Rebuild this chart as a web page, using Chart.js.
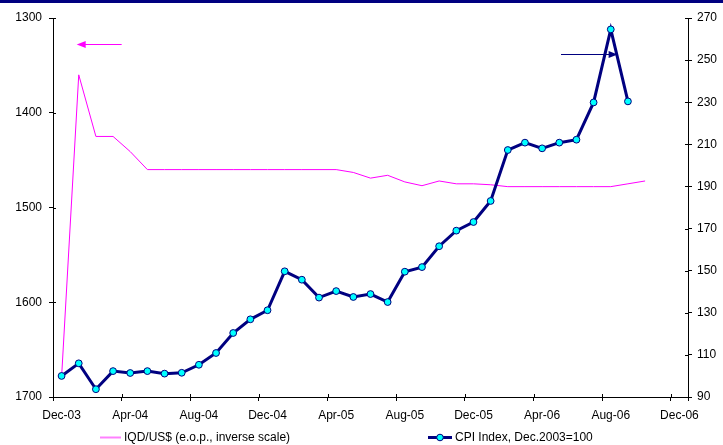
<!DOCTYPE html>
<html><head><meta charset="utf-8">
<script src="https://cdn.jsdelivr.net/npm/chart.js@4"></script>
<style>html,body{margin:0;padding:0;background:#fff;}canvas{display:block;}</style>
</head><body>
<canvas id="c" width="723" height="445"></canvas>
<script>
// ---- data ----
const months = ['Dec-03','Jan-04','Feb-04','Mar-04','Apr-04','May-04','Jun-04','Jul-04','Aug-04','Sep-04','Oct-04','Nov-04',
  'Dec-04','Jan-05','Feb-05','Mar-05','Apr-05','May-05','Jun-05','Jul-05','Aug-05','Sep-05','Oct-05','Nov-05',
  'Dec-05','Jan-06','Feb-06','Mar-06','Apr-06','May-06','Jun-06','Jul-06','Aug-06','Sep-06','Oct-06','Nov-06','Dec-06'];
const iqdLabel = 'IQD/US$ (e.o.p., inverse scale)';
const cpiLabel = 'CPI Index, Dec.2003=100';
const iqdValues = [1679,1360,1425,1425,1441,1460,1460,1460,1460,1460,1460,1460,1460,1460,1460,1460,1460,
  1463,1469,1466,1473,1477,1472,1475,1475,1476,1478,1478,1478,1478,1478,1478,1478,1475,1472];
const cpiValues = [100,106.0,93.7,102.3,101.4,102.3,101.1,101.5,105.3,110.9,120.4,126.9,131.2,149.7,145.7,137.2,
  140.3,137.5,138.9,135.1,149.5,151.7,161.6,169.0,173.1,183.1,207.3,210.8,208.1,210.8,212.2,229.9,264.6,230.4];
const leftTicks = {min:1300, max:1700, step:100};
const rightTicks = {min:90, max:270, step:20};

// ---- styles ----
const PINK = '#FF00FF', NAVY = '#000080', CYAN = '#00FFFF';
Chart.defaults.font.family = 'Arial, "Liberation Sans", sans-serif';
Chart.defaults.font.size = 12;
Chart.defaults.color = '#000';

const decorPlugin = {
  id: 'decor',
  beforeDraw(chart) {
    const ctx = chart.ctx;
    ctx.save();
    ctx.fillStyle = '#fff';
    ctx.fillRect(0, 0, chart.width, chart.height);
    ctx.fillStyle = NAVY;
    ctx.fillRect(0, 0, chart.width, 3);
    ctx.restore();
  },
  afterDraw(chart) {
    const ctx = chart.ctx, a = chart.chartArea;
    const x = chart.scales.x, yL = chart.scales.yL, yR = chart.scales.yR;
    ctx.save();
    ctx.strokeStyle = '#000'; ctx.lineWidth = 1;
    // inner halves of tick marks
    const half = (x.getPixelForValue(1) - x.getPixelForValue(0)) / 2;
    ctx.beginPath();
    for (let i = 0; i < months.length; i += 4) {
      const px = Math.round(x.getPixelForValue(i) - half) + 0.5;
      ctx.moveTo(px, a.bottom); ctx.lineTo(px, a.bottom - 3);
    }
    yL.ticks.forEach(t => { const py = Math.round(yL.getPixelForValue(t.value)) + 0.5; ctx.moveTo(a.left, py); ctx.lineTo(a.left + 3, py); });
    yR.ticks.forEach(t => { const py = Math.round(yR.getPixelForValue(t.value)) + 0.5; ctx.moveTo(a.right, py); ctx.lineTo(a.right - 3, py); });
    ctx.stroke();

    // arrows
    function arrow(x1, x2, y, color) {
      ctx.strokeStyle = color; ctx.fillStyle = color; ctx.lineWidth = 1.2;
      const dir = Math.sign(x2 - x1);
      ctx.beginPath(); ctx.moveTo(x1, y); ctx.lineTo(x2 - dir * 6, y); ctx.stroke();
      ctx.beginPath(); ctx.moveTo(x2, y); ctx.lineTo(x2 - dir * 9, y - 3.5); ctx.lineTo(x2 - dir * 9, y + 3.5); ctx.closePath(); ctx.fill();
    }
    arrow(x.getPixelForValue(3.5), x.getPixelForValue(0.88), Math.round(yL.getPixelForValue(1327.5)) + 0.5, PINK);
    arrow(x.getPixelForValue(29.1), x.getPixelForValue(32.4), Math.round(yR.getPixelForValue(253)) + 0.5, NAVY);

    // legend
    const ly = 437.5;
    ctx.lineWidth = 2; ctx.strokeStyle = '#FF80FF';
    ctx.beginPath(); ctx.moveTo(100, ly); ctx.lineTo(121, ly); ctx.stroke();
    ctx.lineWidth = 3; ctx.strokeStyle = NAVY;
    ctx.beginPath(); ctx.moveTo(428, ly); ctx.lineTo(452, ly); ctx.stroke();
    ctx.beginPath(); ctx.arc(440, ly, 3.3, 0, Math.PI * 2); ctx.fillStyle = CYAN; ctx.fill();
    ctx.lineWidth = 1; ctx.strokeStyle = NAVY; ctx.stroke();
    ctx.fillStyle = '#000'; ctx.font = '12px Arial, "Liberation Sans", sans-serif';
    ctx.textBaseline = 'middle'; ctx.textAlign = 'left';
    ctx.fillText(iqdLabel, 124, ly);
    ctx.fillText(cpiLabel, 455, ly);
    ctx.restore();
  }
};

new Chart(document.getElementById('c'), {
  type: 'line',
  data: {
    labels: months,
    datasets: [
      { label: cpiLabel, data: cpiValues, yAxisID: 'yR', order: 0,
        borderColor: NAVY, borderWidth: 3, pointRadius: 3.4, pointBackgroundColor: CYAN,
        pointBorderColor: NAVY, pointBorderWidth: 1, tension: 0, fill: false },
      { label: iqdLabel, data: iqdValues, yAxisID: 'yL', order: 1,
        borderColor: PINK, borderWidth: 1, pointRadius: 0, tension: 0, fill: false }
    ]
  },
  options: {
    responsive: false, animation: false, devicePixelRatio: 1,
    layout: { padding: { top: 18, left: 0, right: 0, bottom: 0 } },
    plugins: { legend: { display: false }, tooltip: { enabled: false } },
    scales: {
      x: { type: 'category', offset: true,
        grid: { offset: true, drawOnChartArea: false, tickLength: 4, lineWidth: 1,
          color: c => (c.index === undefined || c.index % 4 === 0) ? '#000' : 'rgba(0,0,0,0)' },
        border: { color: '#000', width: 1 },
        ticks: { autoSkip: false, maxRotation: 0, minRotation: 0, padding: 7,
          callback: (v, i) => (i % 4 === 0 ? months[i] : '') },
        afterFit: s => { s.height = 48; } },
      yL: { type: 'linear', position: 'left', reverse: true, min: leftTicks.min, max: leftTicks.max,
        grid: { drawOnChartArea: false, tickLength: 4, color: '#000' },
        border: { color: '#000', width: 1 },
        ticks: { stepSize: leftTicks.step, padding: 7, callback: v => String(v) },
        afterFit: s => { s.width = 53; } },
      yR: { type: 'linear', position: 'right', min: rightTicks.min, max: rightTicks.max,
        grid: { drawOnChartArea: false, tickLength: 4, color: '#000' },
        border: { color: '#000', width: 1 },
        ticks: { stepSize: rightTicks.step, padding: 5, callback: v => String(v) },
        afterFit: s => { s.width = 35; } }
    }
  },
  plugins: [decorPlugin]
});
</script>
</body></html>
